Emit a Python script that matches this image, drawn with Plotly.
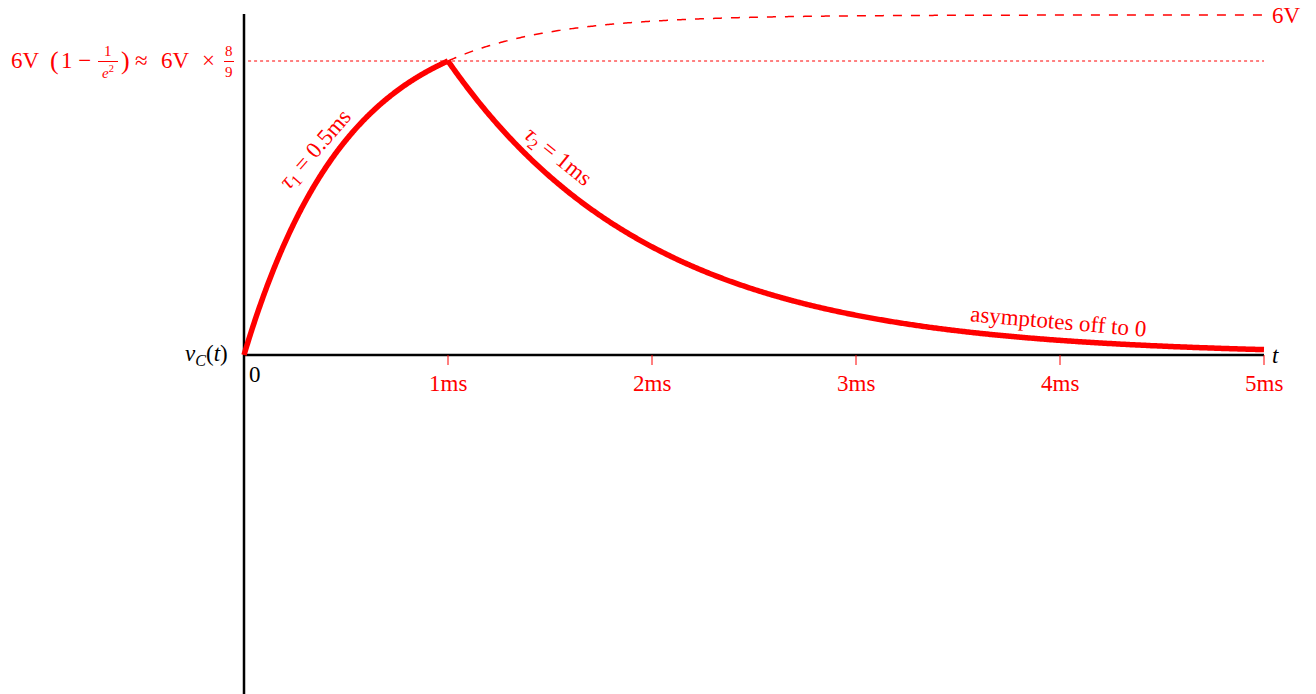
import numpy as np
import plotly.graph_objects as go

# Circuit parameters
V_SOURCE = 6.0          # volts
TAU_1 = 0.5             # ms, charging time constant
TAU_2 = 1.0             # ms, discharging time constant
T_SWITCH = 1.0          # ms, switch moment
T_END = 5.0             # ms

tick_values = [1, 2, 3, 4, 5]
tick_labels = ["1ms", "2ms", "3ms", "4ms", "5ms"]

RED = "#ff0000"
FONT = "Liberation Serif"
FS = 23
W, H = 1316, 694

# pixel layout: origin and scale
X0_PX, Y0_PX = 244, 355
PX_PER_MS = 204.0
PX_PER_V = 56.67

x_range = [-X0_PX / PX_PER_MS, (W - X0_PX) / PX_PER_MS]
y_range = [-(H - Y0_PX) / PX_PER_V, Y0_PX / PX_PER_V]

# curves
t_charge = np.linspace(0, T_SWITCH, 300)
v_charge = V_SOURCE * (1 - np.exp(-t_charge / TAU_1))
v_peak = V_SOURCE * (1 - np.exp(-T_SWITCH / TAU_1))

t_dis = np.linspace(T_SWITCH, T_END, 600)
v_dis = v_peak * np.exp(-(t_dis - T_SWITCH) / TAU_2)

t_cont = np.linspace(T_SWITCH, T_END, 600)
v_cont = V_SOURCE * (1 - np.exp(-t_cont / TAU_1))

fig = go.Figure()

# dotted level at the peak voltage
fig.add_trace(go.Scatter(x=[0.02, T_END], y=[v_peak, v_peak], mode="lines",
                         line=dict(color=RED, width=1, dash="dot"), hoverinfo="skip"))
# dashed continuation of the charging curve
fig.add_trace(go.Scatter(x=t_cont, y=v_cont, mode="lines",
                         line=dict(color=RED, width=1.5, dash="dash", simplify=False),
                         hoverinfo="skip"))

# axes
fig.add_trace(go.Scatter(x=[0, 0], y=[y_range[0] - 0.2, (Y0_PX - 14) / PX_PER_V], mode="lines",
                         line=dict(color="black", width=2.5), hoverinfo="skip"))
fig.add_trace(go.Scatter(x=[0, T_END], y=[0, 0], mode="lines",
                         line=dict(color="black", width=2.5), hoverinfo="skip"))

# ticks
tick_len = 10 / PX_PER_V
for tv in tick_values:
    fig.add_trace(go.Scatter(x=[tv, tv], y=[0, -tick_len], mode="lines",
                             line=dict(color=RED, width=1), hoverinfo="skip"))

# capacitor voltage
fig.add_trace(go.Scatter(x=t_charge, y=v_charge, mode="lines",
                         line=dict(color=RED, width=5.5, simplify=False), hoverinfo="skip"))
fig.add_trace(go.Scatter(x=t_dis, y=v_dis, mode="lines",
                         line=dict(color=RED, width=5.5, simplify=False), hoverinfo="skip"))


def px(xp):
    return xp / W


def py(yp):
    return 1 - yp / H


def red(size=FS):
    return dict(family=FONT, size=size, color=RED)


ann = []
for tv, lab in zip(tick_values, tick_labels):
    ann.append(dict(x=tv, y=-(383 - Y0_PX) / PX_PER_V, xref="x", yref="y", text=lab,
                    font=red(), xanchor="center"))

ann += [
    dict(x=px(247), y=py(374), text="0", font=dict(family=FONT, size=FS, color="black"),
         xanchor="left"),
    dict(x=px(1270), y=py(355), text="<i>t</i>", font=dict(family=FONT, size=FS, color="black"),
         xanchor="left"),
    dict(x=px(230), y=py(355), text="<i>v</i><sub><i>C</i></sub>(<i>t</i>)",
         font=dict(family=FONT, size=FS, color="black"), xanchor="right"),
    dict(x=px(1270), y=py(16), text="6V", font=red(), xanchor="left"),
    dict(x=px(316), y=py(150), text="<i>τ</i><sub>1</sub> = 0.5ms", textangle=-49,
         font=red(), xanchor="center"),
    dict(x=px(557), y=py(157), text="<i>τ</i><sub>2</sub> = 1ms", textangle=39,
         font=red(), xanchor="center"),
    dict(x=px(1058), y=py(322), text="asymptotes off to 0", textangle=5,
         font=red(), xanchor="center"),
    # peak label: 6V (1 − 1/e²) ≈ 6V × 8/9
    dict(x=px(9), y=py(61), text="6V", font=red(), xanchor="left"),
    dict(x=px(48), y=py(61), text="(", font=red(26), xanchor="left"),
    dict(x=px(93), y=py(61), text="1 −", font=red(), xanchor="right"),
    dict(x=px(108), y=py(51), text="1", font=red(15), xanchor="center"),
    dict(x=px(108), y=py(72), text="<i>e</i><sup>2</sup>", font=red(15), xanchor="center"),
    dict(x=px(119), y=py(61), text=")", font=red(26), xanchor="left"),
    dict(x=px(141), y=py(61), text="≈", font=red(), xanchor="center"),
    dict(x=px(159), y=py(61), text="6V", font=red(), xanchor="left"),
    dict(x=px(209), y=py(61), text="×", font=red(), xanchor="center"),
    dict(x=px(229), y=py(51), text="8", font=red(15), xanchor="center"),
    dict(x=px(229), y=py(72), text="9", font=red(15), xanchor="center"),
]
for a in ann:
    a.setdefault("xref", "paper")
    a.setdefault("yref", "paper")
    a.setdefault("showarrow", False)
    a.setdefault("yanchor", "middle")

shapes = [
    dict(type="line", xref="paper", yref="paper", x0=px(98), x1=px(118), y0=py(61.5), y1=py(61.5),
         line=dict(color=RED, width=1)),
    dict(type="line", xref="paper", yref="paper", x0=px(224), x1=px(234), y0=py(61.5), y1=py(61.5),
         line=dict(color=RED, width=1)),
]

fig.update_layout(
    width=W, height=H,
    margin=dict(l=0, r=0, t=0, b=0),
    paper_bgcolor="white", plot_bgcolor="white",
    showlegend=False,
    xaxis=dict(range=x_range, visible=False, fixedrange=True),
    yaxis=dict(range=y_range, visible=False, fixedrange=True),
    annotations=ann,
    shapes=shapes,
)

fig.write_html("out.html")
